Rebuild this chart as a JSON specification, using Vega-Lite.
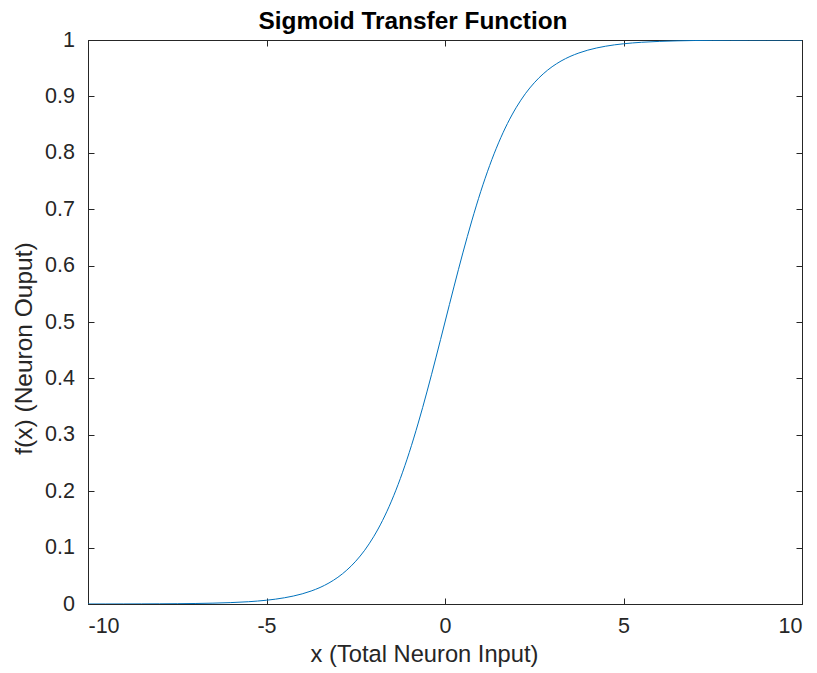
{
  "$schema": "https://vega.github.io/schema/vega-lite/v6.json",
  "width": 714,
  "height": 564,
  "autosize": {"type": "none"},
  "padding": {"left": 88, "top": 40, "right": 15, "bottom": 69},
  "background": "white",
  "title": {"text": "Sigmoid Transfer Function", "font": "Liberation Sans", "fontSize": 24.4, "fontWeight": "bold", "color": "#000000", "offset": -5, "anchor": "middle", "dx": -32},
  "config": {
    "view": {"stroke": "#262626", "strokeWidth": 1},
    "axis": {"grid": false, "domainColor": "#262626", "tickColor": "#262626", "labelColor": "#262626", "titleColor": "#262626", "labelFont": "Liberation Sans", "titleFont": "Liberation Sans", "labelFontSize": 21.5, "titleFontSize": 23.7, "titleFontWeight": "normal", "tickSize": -6, "domain": true, "labelExpr": "'' + datum.value"}
  },
  "data": {"values": [
    {"x": -10, "y": 0.0000454},
    {"x": -9.5, "y": 0.0000749},
    {"x": -9, "y": 0.000123},
    {"x": -8.5, "y": 0.000203},
    {"x": -8, "y": 0.000335},
    {"x": -7.5, "y": 0.000553},
    {"x": -7, "y": 0.000911},
    {"x": -6.5, "y": 0.0015},
    {"x": -6, "y": 0.00247},
    {"x": -5.5, "y": 0.00407},
    {"x": -5, "y": 0.00669},
    {"x": -4.75, "y": 0.00858},
    {"x": -4.5, "y": 0.011},
    {"x": -4.25, "y": 0.0141},
    {"x": -4, "y": 0.018},
    {"x": -3.75, "y": 0.023},
    {"x": -3.5, "y": 0.0293},
    {"x": -3.25, "y": 0.0373},
    {"x": -3, "y": 0.0474},
    {"x": -2.75, "y": 0.0601},
    {"x": -2.5, "y": 0.0759},
    {"x": -2.25, "y": 0.0953},
    {"x": -2, "y": 0.1192},
    {"x": -1.75, "y": 0.148},
    {"x": -1.5, "y": 0.1824},
    {"x": -1.25, "y": 0.2227},
    {"x": -1, "y": 0.2689},
    {"x": -0.75, "y": 0.3208},
    {"x": -0.5, "y": 0.3775},
    {"x": -0.25, "y": 0.4378},
    {"x": 0, "y": 0.5},
    {"x": 0.25, "y": 0.5622},
    {"x": 0.5, "y": 0.6225},
    {"x": 0.75, "y": 0.6792},
    {"x": 1, "y": 0.7311},
    {"x": 1.25, "y": 0.7773},
    {"x": 1.5, "y": 0.8176},
    {"x": 1.75, "y": 0.852},
    {"x": 2, "y": 0.8808},
    {"x": 2.25, "y": 0.9047},
    {"x": 2.5, "y": 0.9241},
    {"x": 2.75, "y": 0.9399},
    {"x": 3, "y": 0.9526},
    {"x": 3.25, "y": 0.9627},
    {"x": 3.5, "y": 0.9707},
    {"x": 3.75, "y": 0.977},
    {"x": 4, "y": 0.982},
    {"x": 4.25, "y": 0.9859},
    {"x": 4.5, "y": 0.989},
    {"x": 4.75, "y": 0.99142},
    {"x": 5, "y": 0.99331},
    {"x": 5.5, "y": 0.99593},
    {"x": 6, "y": 0.99753},
    {"x": 6.5, "y": 0.9985},
    {"x": 7, "y": 0.99909},
    {"x": 7.5, "y": 0.99945},
    {"x": 8, "y": 0.99966},
    {"x": 8.5, "y": 0.9998},
    {"x": 9, "y": 0.99988},
    {"x": 9.5, "y": 0.99993},
    {"x": 10, "y": 0.99995}
  ]},
  "layer": [
    {
      "mark": {"type": "line", "color": "#0072BD", "strokeWidth": 1, "interpolate": "monotone", "clip": true},
      "encoding": {
        "x": {"field": "x", "type": "quantitative", "scale": {"domain": [-10, 10], "nice": false, "zero": false},
              "axis": {"orient": "bottom", "values": [-10, -5, 0, 5, 10], "title": "x (Total Neuron Input)", "labelPadding": 17, "titlePadding": 6, "titleX": 336}},
        "y": {"field": "y", "type": "quantitative", "scale": {"domain": [0, 1], "nice": false},
              "axis": {"orient": "left", "values": [0, 0.1, 0.2, 0.3, 0.4, 0.5, 0.6, 0.7, 0.8, 0.9, 1], "title": "f(x) (Neuron Ouput)", "titleFontSize": 24.5, "labelPadding": 19.5, "titlePadding": 8, "titleY": 308}}
      }
    },
    {
      "mark": {"type": "line", "opacity": 0},
      "encoding": {
        "x": {"field": "x", "type": "quantitative", "scale": {"domain": [-10, 10], "nice": false, "zero": false},
              "axis": {"orient": "top", "values": [-10, -5, 0, 5, 10], "labels": false, "title": null, "tickSize": -6}},
        "y": {"field": "y", "type": "quantitative", "scale": {"domain": [0, 1], "nice": false},
              "axis": {"orient": "right", "values": [0, 0.1, 0.2, 0.3, 0.4, 0.5, 0.6, 0.7, 0.8, 0.9, 1], "labels": false, "title": null, "tickSize": -6}}
      }
    }
  ],
  "resolve": {"axis": {"x": "independent", "y": "independent"}}
}
